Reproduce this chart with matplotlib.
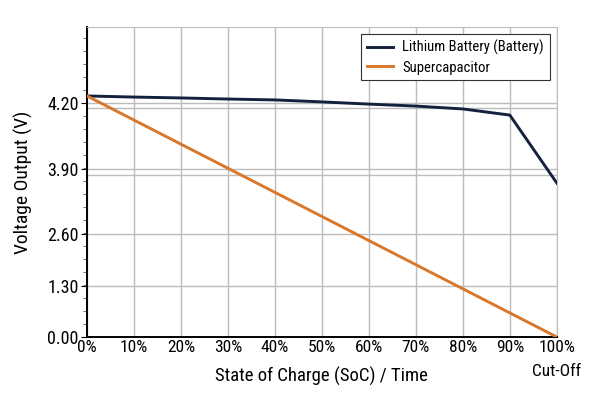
import numpy as np
import matplotlib.pyplot as plt
from matplotlib import font_manager

# pick a narrow font if one is around
names = {f.name for f in font_manager.fontManager.ttflist}
font = "Roboto"
for cand in ["Roboto Condensed", "Liberation Sans Narrow", "Open Sans Condensed"]:
    if cand in names:
        font = cand
        break
plt.rcParams["font.family"] = [font, "DejaVu Sans"]

soc = [0, 10, 20, 30, 40, 50, 60, 70, 80, 90, 100]
battery_v = [4.232, 4.227, 4.223, 4.218, 4.214, 4.205, 4.195, 4.186, 4.173, 4.145, 3.62]
supercap_soc = [0, 100]
supercap_v = [4.232, 0.0]

x_labels = ["0%", "10%", "20%", "30%", "40%", "50%", "60%", "70%", "80%", "90%", "100%\nCut-Off"]
y_ticks = [0.0, 1.30, 2.60, 3.90, 4.20]
y_labels = ["0.00", "1.30", "2.60", "3.90", "4.20"]
extra_grid = [4.177, 3.78]

# the y axis of the original is not linear: map volts to screen position
anchor_v = [0.0, 1.30, 2.60, 3.90, 4.20, 6.0]
anchor_pos = [0, 51, 103, 168, 234, 630]


def fwd(v):
    return np.interp(v, anchor_v, anchor_pos)


def inv(p):
    return np.interp(p, anchor_pos, anchor_v)


fig = plt.figure(figsize=(6, 4), dpi=100)
ax = fig.add_axes([0.145, 0.1575, 0.783, 0.775])
ax.set_yscale("function", functions=(fwd, inv))

ax.plot(soc, battery_v, color="#14213d", lw=2.1, label="Lithium Battery (Battery)", zorder=3)
ax.plot(supercap_soc, supercap_v, color="#d9772b", lw=2.1, label="Supercapacitor", zorder=3)

ax.set_xlim(0, 100)
ax.set_ylim(0, inv(310))
ax.set_xticks(soc)
ax.set_xticklabels(x_labels, fontsize=12.5, linespacing=1.75)
ax.set_yticks(y_ticks)
ax.set_yticklabels(y_labels, fontsize=13)
ax.set_yticks(inv(np.arange(13, 310, 13)), minor=True)
ax.tick_params(axis="y", which="minor", length=3, color="#555555")
ax.tick_params(axis="x", length=0, pad=2)
ax.tick_params(axis="y", which="major", length=4, pad=2)

ax.grid(True, color="#bcbcbc", lw=1.0, zorder=0)
for g in extra_grid:
    ax.axhline(g, color="#bcbcbc", lw=1.0, zorder=0)

for s in ["top", "right"]:
    ax.spines[s].set_color("#bcbcbc")
for s in ["left", "bottom"]:
    ax.spines[s].set_linewidth(1.4)

ax.set_xlabel("State of Charge (SoC) / Time", fontsize=13.5)
ax.xaxis.set_label_coords(0.5, -0.095)
ax.set_ylabel("Voltage Output (V)", fontsize=14)
ax.yaxis.set_label_coords(-0.115, 0.5)

leg = ax.legend(loc="upper right", fontsize=10.5, frameon=True, fancybox=False,
                edgecolor="#333333", framealpha=1, borderaxespad=0.5,
                handlelength=1.8, borderpad=0.4, labelspacing=0.35, handletextpad=0.6)
leg.get_frame().set_linewidth(0.8)

fig.savefig("out.png", dpi=100)
